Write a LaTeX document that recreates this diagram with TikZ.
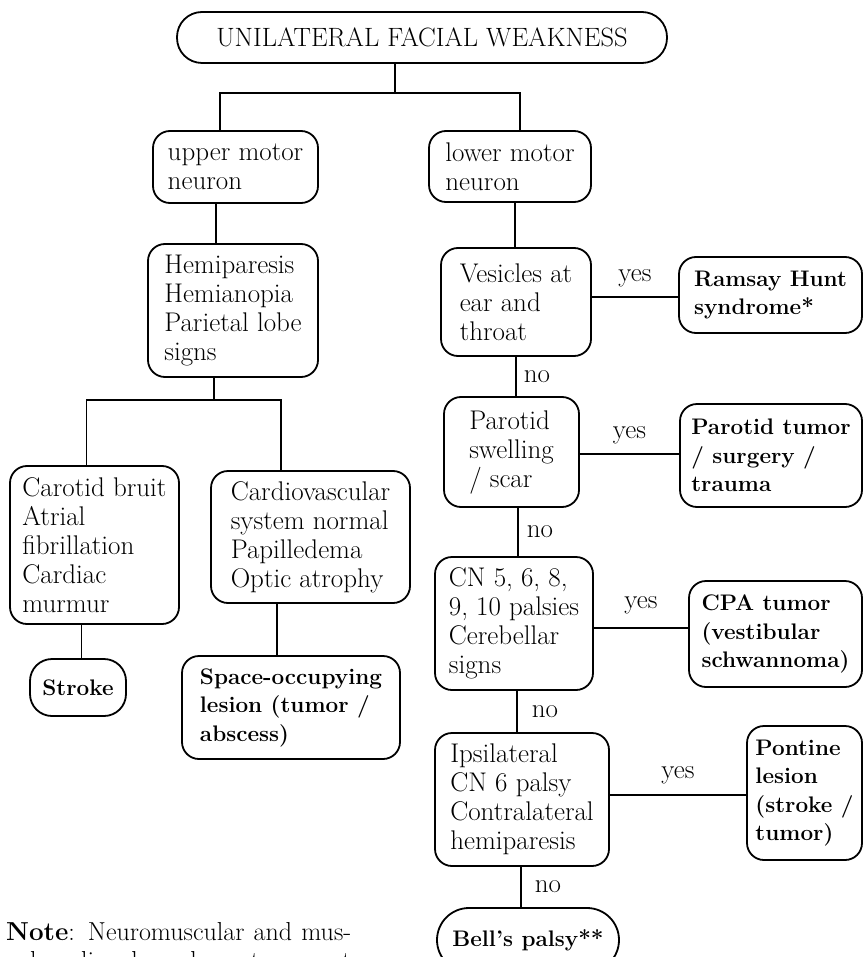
\documentclass[tikz,border=0pt]{standalone}
\usepackage{fontspec}
\setmainfont{Latin Modern Roman}
\begin{document}
\begin{tikzpicture}[x=1pt,y=-1pt,
  every node/.style={inner sep=0pt},
  box/.style={draw, line width=1.8pt, rounded corners=17pt, align=left,
    font=\fontsize{27}{29}\selectfont},
  bbox/.style={box, font=\fontsize{22.5}{28.5}\selectfont\bfseries},
  lbl/.style={font=\fontsize{27}{29}\selectfont},
  conn/.style={line width=1.8pt}]
\useasboundingbox (0,0) rectangle (864,957);
\clip (0,0) rectangle (864,957);

% title
\node[box, rounded corners=25pt, minimum width=490pt, minimum height=51pt,
  align=center, font=\fontsize{26.5}{28}\selectfont] (top) at (422,37.5)
  {UNILATERAL FACIAL WEAKNESS};

% left branch
\node[box, minimum width=165pt, minimum height=72pt] (umn) at (235.5,167)
  {upper motor\\neuron};
\node[box, minimum width=170pt, minimum height=133pt] (hemi) at (233,310.5)
  {Hemiparesis\\Hemianopia\\Parietal lobe\\signs};
\node[box, minimum width=169pt, minimum height=158pt] (carotid) at (94.5,545)
  {Carotid bruit\\Atrial\\fibrillation\\Cardiac\\murmur};
\node[box, minimum width=199pt, minimum height=132pt] (cardio) at (310.5,537)
  {Cardiovascular\\system normal\\Papilledema\\Optic atrophy};
\node[bbox, rounded corners=22pt, minimum width=96pt, minimum height=57pt] (stroke) at (78,687.5)
  {Stroke};
\node[bbox, minimum width=218pt, minimum height=103pt] (space) at (291,707.5)
  {Space-occupying\\lesion (tumor /\\abscess)};

% right branch
\node[box, minimum width=162pt, minimum height=71pt] (lmn) at (510,166.5)
  {lower motor\\neuron};
\node[box, minimum width=150pt, minimum height=108pt] (ves) at (516,302)
  {Vesicles at\\ear and\\throat};
\node[bbox, minimum width=183pt, minimum height=76pt] (ramsay) at (770.5,295)
  {Ramsay Hunt\\syndrome*};
\node[box, minimum width=135pt, minimum height=110pt] (parotid) at (511.5,452)
  {Parotid\\swelling\\/ scar};
\node[bbox, minimum width=182pt, minimum height=103pt] (ptumor) at (771,455.5)
  {Parotid tumor\\/ surgery /\\trauma};
\node[box, minimum width=158pt, minimum height=133pt] (cn) at (514,623.5)
  {CN 5, 6, 8,\\9, 10 palsies\\Cerebellar\\signs};
\node[bbox, minimum width=173pt, minimum height=106pt] (cpa) at (775.5,634)
  {CPA tumor\\(vestibular\\schwannoma)};
\node[box, minimum width=174pt, minimum height=133pt] (ipsi) at (522,799.5)
  {Ipsilateral\\CN 6 palsy\\Contralateral\\hemiparesis};
\node[bbox, minimum width=115pt, minimum height=134pt] (pontine) at (804.5,793)
  {Pontine\\lesion\\(stroke /\\tumor)};
\node[bbox, rounded corners=32pt, minimum width=182pt, minimum height=64pt] (bell) at (528,940)
  {Bell's palsy**};

% note
\node[anchor=north west, align=left, font=\fontsize{26}{29}\selectfont] (note) at (6,922)
  {\hbox to 345pt{\textbf{Note}: Neuromuscular and mus-}\\
   \hbox to 345pt{cular disorders do not present}};

% connectors: title
\coordinate (tj) at (395,93);
\coordinate (xa) at (220,0);
\coordinate (xb) at (520,0);
\draw[conn] (tj |- top.south) -- (tj);
\draw[conn] (xa |- umn.north) |- (tj) -| (xb |- lmn.north);

% left column
\coordinate (xc) at (216,0);
\draw[conn] (xc |- umn.south) -- (xc |- hemi.north);
\coordinate (hj) at (214,400);
\coordinate (xe) at (86.5,0);
\coordinate (xf) at (281,0);
\draw[conn] (hj |- hemi.south) -- (hj);
\draw[conn] (xe |- carotid.north) |- (hj) -| (xf |- cardio.north);
\coordinate (xg) at (81.5,0);
\draw[conn] (xg |- carotid.south) -- (xg |- stroke.north);
\coordinate (xh) at (277,0);
\draw[conn] (xh |- cardio.south) -- (xh |- space.north);

% right column
\coordinate (xd) at (515,0);
\draw[conn] (xd |- lmn.south) -- (xd |- ves.north);
\coordinate (xi) at (516,0);
\draw[conn] (xi |- ves.south) -- node[lbl, right=7pt] {no} (xi |- parotid.north);
\coordinate (xj) at (518,0);
\draw[conn] (xj |- parotid.south) -- node[lbl, right=8pt] {no} (xj |- cn.north);
\coordinate (xk) at (517,0);
\draw[conn] (xk |- cn.south) -- node[lbl, right=14pt] {no} (xk |- ipsi.north);
\coordinate (xl) at (521,0);
\draw[conn] (xl |- ipsi.south) -- node[lbl, right=13pt] {no} (xl |- bell.north);

% yes branches
\coordinate (ya) at (0,297);
\draw[conn] (ves.east |- ya) -- node[lbl, above=9pt] {yes} (ramsay.west |- ya);
\coordinate (yb) at (0,454);
\draw[conn] (parotid.east |- yb) -- node[lbl, above=9pt] {yes} (ptumor.west |- yb);
\coordinate (yc) at (0,628);
\draw[conn] (cn.east |- yc) -- node[lbl, above=13pt] {yes} (cpa.west |- yc);
\coordinate (yd) at (0,795);
\draw[conn] (ipsi.east |- yd) -- node[lbl, above=10pt] {yes} (pontine.west |- yd);
\end{tikzpicture}
\end{document}
